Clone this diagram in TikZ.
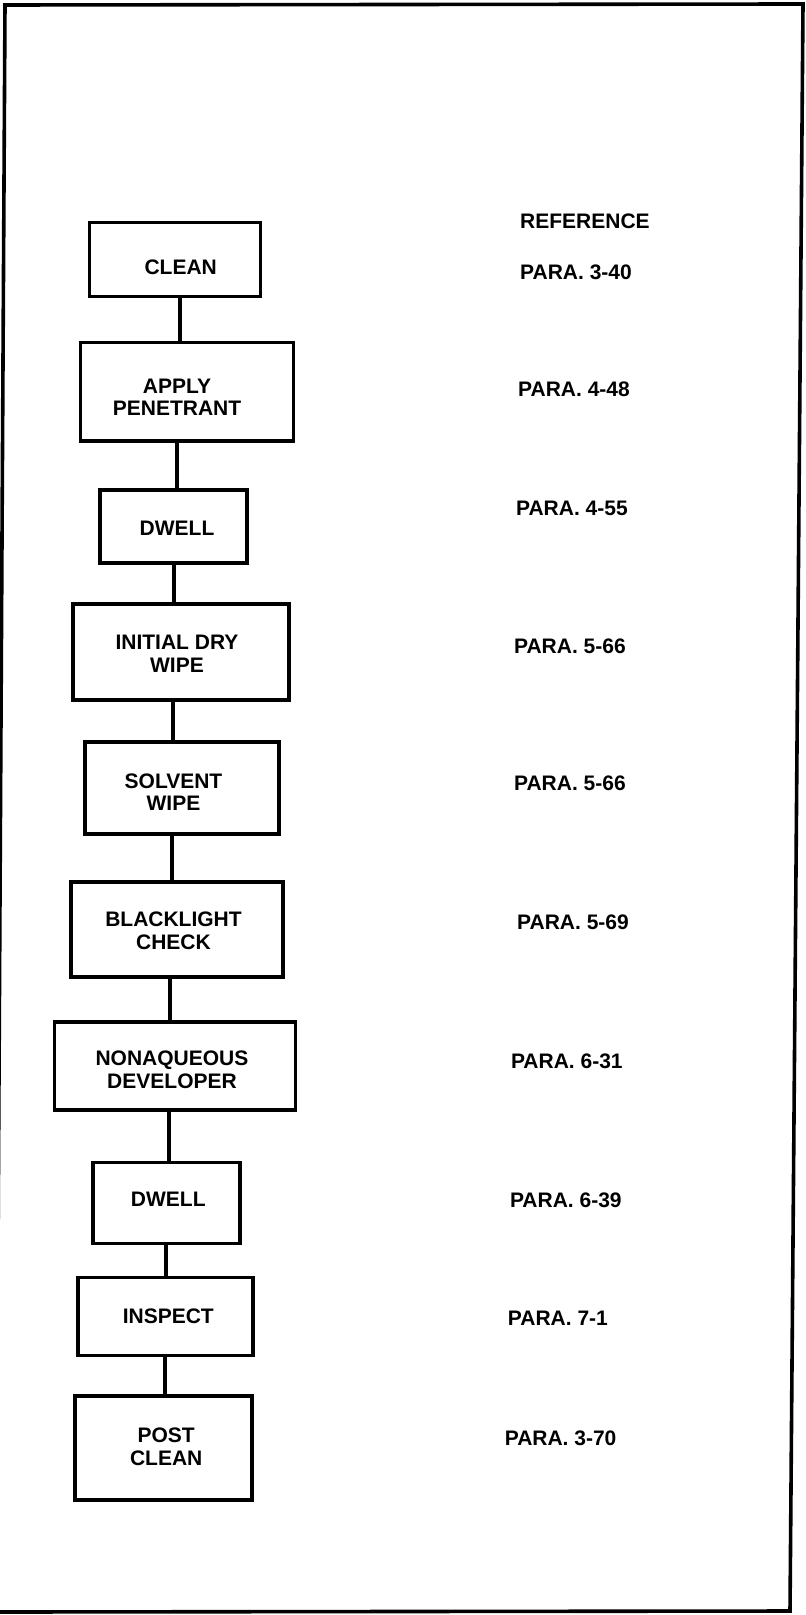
\documentclass[tikz,border=0pt]{standalone}
\usepackage{fontspec}
\setmainfont{Liberation Sans}
\begin{document}
\begin{tikzpicture}[x=0.5pt,y=-0.5pt,
  box/.style={draw=black,line width=1.8pt,rectangle,inner sep=0pt},
  txt/.style={font=\bfseries\fontsize{10.5}{11.3}\selectfont,align=center,inner sep=0pt},
  ref/.style={font=\bfseries\fontsize{10.5}{11.3}\selectfont,anchor=west,inner sep=0pt},
  link/.style={draw=black,line width=1.7pt}]
\useasboundingbox (0,0) rectangle (806,1615);
\begin{scope}
\clip (0,0) rectangle (806,1615);
\draw[line width=1.8pt,line join=miter] (5,5) -- (803,4) -- (790,1611) -- (-4,1612) -- cycle;
\end{scope}
% boxes
\node[box,minimum width=171pt*0.5,minimum height=74pt*0.5] (b1) at (175,259.4) {};
\node[box,minimum width=213pt*0.5,minimum height=98pt*0.5] (b2) at (186.8,391.7) {};
\node[box,minimum width=147pt*0.5,minimum height=73pt*0.5] (b3) at (173.5,526.5) {};
\node[box,minimum width=216pt*0.5,minimum height=96pt*0.5] (b4) at (181.2,652.1) {};
\node[box,minimum width=194pt*0.5,minimum height=92pt*0.5] (b5) at (182.2,788) {};
\node[box,minimum width=212pt*0.5,minimum height=95pt*0.5] (b6) at (177,929.5) {};
\node[box,minimum width=241pt*0.5,minimum height=87.5pt*0.5] (b7) at (175,1066) {};
\node[box,minimum width=147pt*0.5,minimum height=81pt*0.5] (b8) at (166.2,1202.9) {};
\node[box,minimum width=175pt*0.5,minimum height=78pt*0.5] (b9) at (165.7,1316.6) {};
\node[box,minimum width=177pt*0.5,minimum height=104pt*0.5] (b10) at (163.7,1447.8) {};
% box texts
\node[txt] (t1) at (180.7,267.6) {CLEAN};
\node[txt] (t2) at (177,397.3) {APPLY\\PENETRANT};
\node[txt] (t3) at (177,528) {DWELL};
\node[txt] (t4) at (177,653.7) {INITIAL DRY\\WIPE};
\node[txt] (t5) at (173.5,792) {SOLVENT\\WIPE};
\node[txt] (t6) at (173.5,930.6) {BLACKLIGHT\\CHECK};
\node[txt] (t7) at (172,1069.5) {NONAQUEOUS\\DEVELOPER};
\node[txt] (t8) at (168.3,1199.3) {DWELL};
\node[txt] (t9) at (168.3,1316.6) {INSPECT};
\node[txt] (t10) at (166.2,1446.8) {POST\\CLEAN};
% connector x positions
\coordinate (k1) at (180,0);
\coordinate (k2) at (177,0);
\coordinate (k3) at (174,0);
\coordinate (k4) at (173,0);
\coordinate (k5) at (172,0);
\coordinate (k6) at (170,0);
\coordinate (k7) at (169,0);
\coordinate (k8) at (166,0);
\coordinate (k9) at (165,0);
\draw[link] (b1.south -| k1) -- (b2.north -| k1);
\draw[link] (b2.south -| k2) -- (b3.north -| k2);
\draw[link] (b3.south -| k3) -- (b4.north -| k3);
\draw[link] (b4.south -| k4) -- (b5.north -| k4);
\draw[link] (b5.south -| k5) -- (b6.north -| k5);
\draw[link] (b6.south -| k6) -- (b7.north -| k6);
\draw[link] (b7.south -| k7) -- (b8.north -| k7);
\draw[link] (b8.south -| k8) -- (b9.north -| k8);
\draw[link] (b9.south -| k9) -- (b10.north -| k9);
% reference column
\node[ref] (r0) at (519.8,221.3) {REFERENCE};
\node[ref] (r1) at (519.8,271.8) {PARA. 3-40};
\node[ref] (r2) at (517.8,389.1) {PARA. 4-48};
\node[ref] (r3) at (515.7,508.5) {PARA. 4-55};
\node[ref] (r4) at (513.7,646.5) {PARA. 5-66};
\node[ref] (r5) at (513.7,783.4) {PARA. 5-66};
\node[ref] (r6) at (516.8,922.3) {PARA. 5-69};
\node[ref] (r7) at (510.6,1061.3) {PARA. 6-31};
\node[ref] (r8) at (509.6,1200.3) {PARA. 6-39};
\node[ref] (r9) at (507.5,1318.6) {PARA. 7-1};
\node[ref] (r10) at (504.4,1438.1) {PARA. 3-70};
\end{tikzpicture}
\end{document}
